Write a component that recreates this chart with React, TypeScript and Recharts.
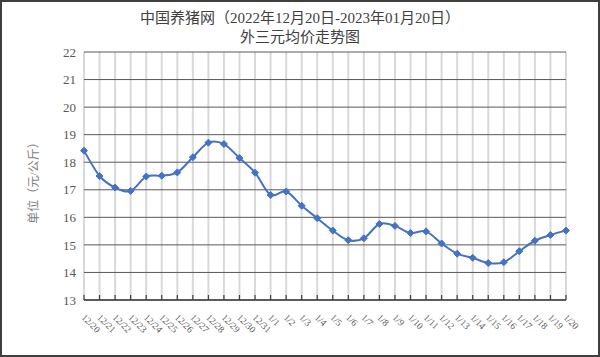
import { LineChart, Line, XAxis, YAxis, CartesianGrid } from 'recharts'

const dates = [
  '12/20', '12/21', '12/22', '12/23', '12/24', '12/25', '12/26', '12/27',
  '12/28', '12/29', '12/30', '12/31', '1/1', '1/2', '1/3', '1/4',
  '1/5', '1/6', '1/7', '1/8', '1/9', '1/10', '1/11', '1/12',
  '1/13', '1/14', '1/15', '1/16', '1/17', '1/18', '1/19', '1/20',
]

const prices = [
  18.42, 17.5, 17.08, 16.96, 17.48, 17.51, 17.63, 18.18,
  18.71, 18.66, 18.15, 17.62, 16.81, 16.94, 16.42, 15.97,
  15.52, 15.17, 15.24, 15.76, 15.69, 15.43, 15.49, 15.05,
  14.68, 14.53, 14.34, 14.37, 14.77, 15.15, 15.36, 15.52,
]

const yTicks = [13, 14, 15, 16, 17, 18, 19, 20, 21, 22]

const data = dates.map((d, i) => ({ date: d, price: prices[i] }))

const BLUE = '#4472C4'
const SERIF = '"Liberation Serif", "Noto Sans CJK SC", serif'

// Excel-style smoothed line (uniform Catmull-Rom as cubic beziers)
const excelSmooth = (context: any) => {
  let pts: [number, number][] = []
  return {
    areaStart() {},
    areaEnd() {},
    lineStart() {
      pts = []
    },
    point(x: number, y: number) {
      pts.push([+x, +y])
    },
    lineEnd() {
      if (!pts.length) return
      context.moveTo(pts[0][0], pts[0][1])
      for (let i = 0; i < pts.length - 1; i++) {
        const p0 = pts[i - 1] || pts[i]
        const p1 = pts[i]
        const p2 = pts[i + 1]
        const p3 = pts[i + 2] || p2
        context.bezierCurveTo(
          p1[0] + (p2[0] - p0[0]) / 6,
          p1[1] + (p2[1] - p0[1]) / 6,
          p2[0] - (p3[0] - p1[0]) / 6,
          p2[1] - (p3[1] - p1[1]) / 6,
          p2[0],
          p2[1],
        )
      }
    },
  }
}

const Diamond = (props: any) => {
  const { cx, cy, index } = props
  if (cx == null || cy == null) return null
  const r = 3.5
  return (
    <polygon
      key={`d-${index}`}
      points={`${cx},${cy - r} ${cx + r},${cy} ${cx},${cy + r} ${cx - r},${cy}`}
      fill={BLUE}
      stroke={BLUE}
    />
  )
}

const DateTick = (props: any) => {
  const { x, y, payload } = props
  const tx = x - 3
  const ty = y + 18
  return (
    <g>
      <line x1={x} y1={y} x2={x} y2={y - 5} stroke="#404040" strokeWidth={1.2} />
      <text
        x={tx}
        y={ty}
        transform={`rotate(45, ${tx}, ${ty})`}
        fontSize={9.5}
        fill="#595959"
        fontFamily={SERIF}
        textAnchor="start"
      >
        {payload.value}
      </text>
    </g>
  )
}

export default function App() {
  return (
    <div style={{ position: 'absolute', left: 0, top: 0, width: 600, height: 357, background: '#fff' }}>
      <div
        style={{
          position: 'absolute', left: 0, top: 8, width: 600, textAlign: 'center',
          fontFamily: SERIF, fontSize: 15, lineHeight: '20px', color: '#404040',
        }}
      >
        中国养猪网（2022年12月20日-2023年01月20日）
      </div>
      <div
        style={{
          position: 'absolute', left: 0, top: 27, width: 600, textAlign: 'center',
          fontFamily: SERIF, fontSize: 15, lineHeight: '20px', color: '#404040',
        }}
      >
        外三元均价走势图
      </div>
      <div
        style={{
          position: 'absolute', left: 33, top: 180, transform: 'translate(-50%, -50%) rotate(-90deg)',
          whiteSpace: 'nowrap', fontFamily: SERIF, fontSize: 12, color: '#7f7f7f',
        }}
      >
        单位（元/公斤）
      </div>
      <div style={{ position: 'absolute', left: 0, top: 0 }}>
        <LineChart width={600} height={357} data={data} margin={{ top: 52, right: 34, bottom: 0, left: 0 }}>
          <CartesianGrid horizontal={false} stroke="#d9d9d9" strokeWidth={2} />
          <CartesianGrid vertical={false} stroke="#595959" strokeWidth={1} />
          <XAxis
            dataKey="date"
            interval={0}
            height={57}
            tickSize={0}
            tickMargin={0}
            tickLine={false}
            axisLine={{ stroke: '#404040', strokeWidth: 1.5 }}
            tick={<DateTick />}
          />
          <YAxis
            width={84}
            domain={[13, 22]}
            ticks={yTicks}
            interval={0}
            axisLine={false}
            tickLine={false}
            tick={{ fontSize: 13, fill: '#595959', fontFamily: SERIF }}
          />
          <Line
            dataKey="price"
            type={excelSmooth as any}
            stroke={BLUE}
            strokeWidth={2}
            dot={<Diamond />}
            activeDot={false}
            isAnimationActive={false}
          />
        </LineChart>
      </div>
      <div
        style={{
          position: 'absolute', left: 0, top: 0, width: 600, height: 357, boxSizing: 'border-box',
          border: '2px solid #3f3f3f', pointerEvents: 'none',
        }}
      />
    </div>
  )
}
